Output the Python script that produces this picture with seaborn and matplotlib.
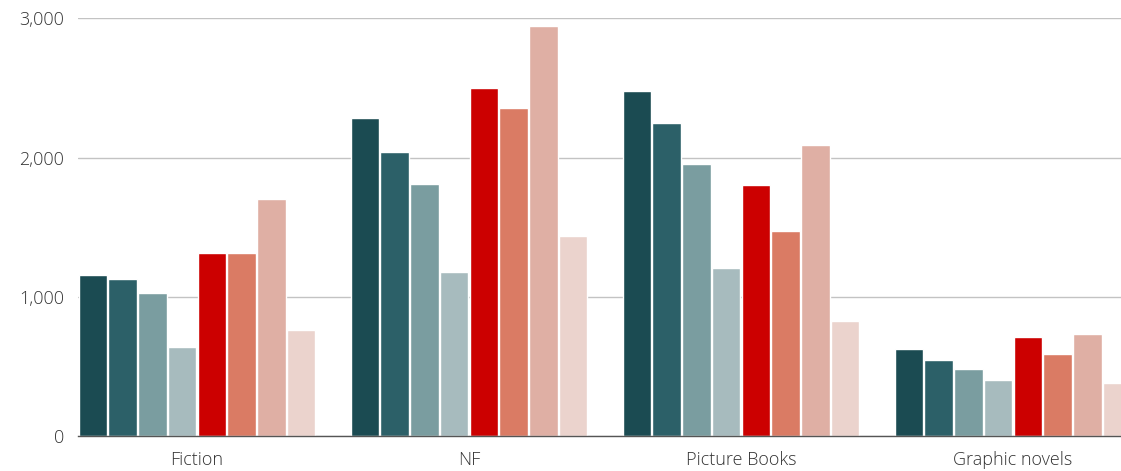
import matplotlib
matplotlib.use("Agg")
import matplotlib.pyplot as plt
import matplotlib.ticker as mticker
import seaborn as sns
import pandas as pd

categories = ["Fiction", "NF", "Picture Books", "Graphic novels"]
series_names = ["S1", "S2", "S3", "S4", "S5", "S6", "S7", "S8"]
s1 = [1153, 2282, 2481, 622]
s2 = [1127, 2043, 2246, 545]
s3 = [1024, 1809, 1952, 483]
s4 = [639, 1179, 1206, 404]
s5 = [1311, 2498, 1801, 711]
s6 = [1313, 2354, 1469, 589]
s7 = [1701, 2943, 2091, 734]
s8 = [761, 1433, 825, 383]
colors = ["#1b4b52", "#2c6068", "#7a9da0", "#a7bbbe",
          "#cc0000", "#da7b64", "#dfafa4", "#ebd3cd"]

all_series = [s1, s2, s3, s4, s5, s6, s7, s8]
rows = []
for name, vals in zip(series_names, all_series):
    for cat, v in zip(categories, vals):
        rows.append({"category": cat, "series": name, "value": v})
df = pd.DataFrame(rows)

sns.set_theme(style="white")
plt.rcParams["font.family"] = ["Open Sans", "DejaVu Sans"]

fig = plt.figure(figsize=(11.21, 4.71), dpi=100)
ax = fig.add_axes([78 / 1121, 1 - 436 / 471, 1 - 78 / 1121, (436 - 18.3) / 471])

sns.barplot(data=df, x="category", y="value", hue="series", order=categories,
            hue_order=series_names, palette=colors, width=0.875, gap=0.05,
            legend=False, ax=ax, errorbar=None, saturation=1)

ax.set_xlim(-0.4375, (1121 - 197) / 272)
ax.set_ylim(0, 3000)
ax.set_yticks([0, 1000, 2000, 3000])
ax.yaxis.set_major_formatter(mticker.FuncFormatter(lambda v, p: f"{int(v):,}"))
ax.grid(axis="y", color="#c3c3c3", linewidth=1)
ax.set_axisbelow(True)
for s in ["left", "right", "top"]:
    ax.spines[s].set_visible(False)
ax.spines["bottom"].set_color("#555555")
ax.spines["bottom"].set_linewidth(1)
ax.set_xlabel("")
ax.set_ylabel("")
ax.tick_params(axis="both", length=0, labelsize=13, labelcolor="#333333")
ax.tick_params(axis="y", pad=10)
ax.tick_params(axis="x", pad=11)
for lbl in ax.get_xticklabels() + ax.get_yticklabels():
    lbl.set_fontweight("light")

fig.savefig("out.png", dpi=100)
